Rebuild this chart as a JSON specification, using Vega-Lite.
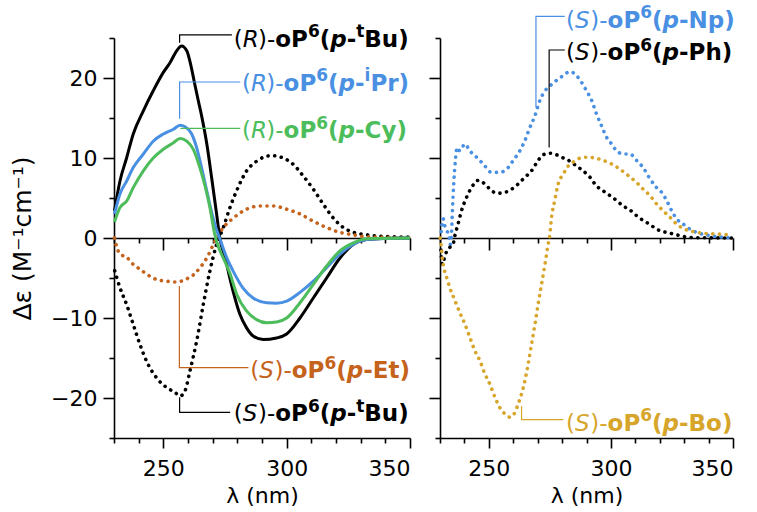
{
  "$schema": "https://vega.github.io/schema/vega-lite/v6.json",
  "padding": {"left": 10, "top": 4, "right": 5, "bottom": 5},
  "background": "white",
  "spacing": 30,
  "bounds": "flush",
  "config": {
    "font": "DejaVu Sans",
    "view": {"stroke": null},
    "axis": {
      "domainColor": "black", "domainWidth": 1.6, "tickColor": "black", "tickWidth": 1.6,
      "labelColor": "black", "labelFont": "DejaVu Sans", "labelFontSize": 22,
      "titleColor": "black", "titleFont": "DejaVu Sans", "titleFontSize": 22, "titleFontWeight": "normal",
      "grid": false, "labelOverlap": false, "labelBound": false
    }
  },
  "datasets": {
    "curves": [
      {"s":"R-tBu","x":230.2,"y":3.4},{"s":"R-tBu","x":232.4,"y":7.1},{"s":"R-tBu","x":235.1,"y":10.0},{"s":"R-tBu","x":237.8,"y":13.0},{"s":"R-tBu","x":241.9,"y":15.9},{"s":"R-tBu","x":245.9,"y":18.4},{"s":"R-tBu","x":250,"y":20.7},{"s":"R-tBu","x":252.7,"y":21.9},{"s":"R-tBu","x":255.4,"y":23.4},{"s":"R-tBu","x":257.4,"y":24.0},{"s":"R-tBu","x":259.5,"y":23.4},{"s":"R-tBu","x":261,"y":21.8},{"s":"R-tBu","x":262.5,"y":19.6},{"s":"R-tBu","x":264,"y":17.4},{"s":"R-tBu","x":265.5,"y":15.3},{"s":"R-tBu","x":267.6,"y":11.8},{"s":"R-tBu","x":269.6,"y":7.5},{"s":"R-tBu","x":271.6,"y":3.0},{"s":"R-tBu","x":272.9,"y":0},{"s":"R-tBu","x":275.1,"y":-2.5},{"s":"R-tBu","x":276.8,"y":-4.8},{"s":"R-tBu","x":278.4,"y":-6.8},{"s":"R-tBu","x":281,"y":-9.5},{"s":"R-tBu","x":283.7,"y":-11.2},{"s":"R-tBu","x":286.4,"y":-12.25},{"s":"R-tBu","x":290.5,"y":-12.7},{"s":"R-tBu","x":295.9,"y":-12.5},{"s":"R-tBu","x":300,"y":-12.0},{"s":"R-tBu","x":305.4,"y":-10.0},{"s":"R-tBu","x":310.8,"y":-7.5},{"s":"R-tBu","x":316.2,"y":-5.0},{"s":"R-tBu","x":321.6,"y":-2.5},{"s":"R-tBu","x":327,"y":-0.8},{"s":"R-tBu","x":332.4,"y":-0.2},{"s":"R-tBu","x":339,"y":-0.05},{"s":"R-tBu","x":350,"y":0},

      {"s":"R-iPr","x":230.2,"y":3.0},{"s":"R-iPr","x":232.4,"y":5.5},{"s":"R-iPr","x":235.1,"y":7.1},{"s":"R-iPr","x":237.8,"y":8.8},{"s":"R-iPr","x":241.9,"y":10.5},{"s":"R-iPr","x":245.9,"y":12.1},{"s":"R-iPr","x":250,"y":13.0},{"s":"R-iPr","x":254.1,"y":13.6},{"s":"R-iPr","x":256.8,"y":14.1},{"s":"R-iPr","x":258.8,"y":13.9},{"s":"R-iPr","x":261.5,"y":13.0},{"s":"R-iPr","x":263.5,"y":11.3},{"s":"R-iPr","x":265.5,"y":8.8},{"s":"R-iPr","x":267.6,"y":5.9},{"s":"R-iPr","x":269.6,"y":3.2},{"s":"R-iPr","x":271.6,"y":1.0},{"s":"R-iPr","x":272.8,"y":0},{"s":"R-iPr","x":275.5,"y":-2.3},{"s":"R-iPr","x":278.4,"y":-4.2},{"s":"R-iPr","x":282.4,"y":-6.3},{"s":"R-iPr","x":286.4,"y":-7.5},{"s":"R-iPr","x":291.9,"y":-8.1},{"s":"R-iPr","x":295.9,"y":-8.15},{"s":"R-iPr","x":300,"y":-7.9},{"s":"R-iPr","x":305.4,"y":-6.8},{"s":"R-iPr","x":310.8,"y":-5.4},{"s":"R-iPr","x":316.2,"y":-3.7},{"s":"R-iPr","x":321.6,"y":-2.0},{"s":"R-iPr","x":327,"y":-0.8},{"s":"R-iPr","x":332.4,"y":-0.2},{"s":"R-iPr","x":340,"y":-0.05},{"s":"R-iPr","x":350,"y":0},

      {"s":"R-Cy","x":230.2,"y":2.0},{"s":"R-Cy","x":232.4,"y":3.8},{"s":"R-Cy","x":235.1,"y":4.6},{"s":"R-Cy","x":237.8,"y":6.3},{"s":"R-Cy","x":241.9,"y":8.4},{"s":"R-Cy","x":245.9,"y":10.0},{"s":"R-Cy","x":250,"y":11.1},{"s":"R-Cy","x":254.1,"y":11.9},{"s":"R-Cy","x":256.8,"y":12.45},{"s":"R-Cy","x":259.5,"y":12.1},{"s":"R-Cy","x":262.1,"y":11.1},{"s":"R-Cy","x":264.8,"y":8.8},{"s":"R-Cy","x":266.9,"y":6.5},{"s":"R-Cy","x":268.9,"y":3.8},{"s":"R-Cy","x":270.8,"y":0.5},{"s":"R-Cy","x":272.2,"y":-1.0},{"s":"R-Cy","x":274.3,"y":-2.5},{"s":"R-Cy","x":277,"y":-4.4},{"s":"R-Cy","x":279.7,"y":-7.0},{"s":"R-Cy","x":283.7,"y":-9.1},{"s":"R-Cy","x":287.8,"y":-10.2},{"s":"R-Cy","x":291.9,"y":-10.6},{"s":"R-Cy","x":295.9,"y":-10.5},{"s":"R-Cy","x":300,"y":-10.0},{"s":"R-Cy","x":305.4,"y":-8.1},{"s":"R-Cy","x":310.8,"y":-5.8},{"s":"R-Cy","x":316.2,"y":-3.5},{"s":"R-Cy","x":321.6,"y":-1.6},{"s":"R-Cy","x":327,"y":-0.6},{"s":"R-Cy","x":332.4,"y":-0.1},{"s":"R-Cy","x":350,"y":0},

      {"s":"S-tBu","x":230.3,"y":-4.1},{"s":"S-tBu","x":232.4,"y":-6.2},{"s":"S-tBu","x":235.1,"y":-8.3},{"s":"S-tBu","x":237.8,"y":-10.8},{"s":"S-tBu","x":240.5,"y":-13.3},{"s":"S-tBu","x":243.2,"y":-15.4},{"s":"S-tBu","x":247.3,"y":-17.5},{"s":"S-tBu","x":251.4,"y":-18.7},{"s":"S-tBu","x":254.7,"y":-19.3},{"s":"S-tBu","x":256.8,"y":-19.75},{"s":"S-tBu","x":258.8,"y":-19.1},{"s":"S-tBu","x":260.8,"y":-16.6},{"s":"S-tBu","x":263.5,"y":-12.9},{"s":"S-tBu","x":266.2,"y":-8.3},{"s":"S-tBu","x":268.9,"y":-4.1},{"s":"S-tBu","x":271.6,"y":-0.8},{"s":"S-tBu","x":274.3,"y":1.3},{"s":"S-tBu","x":277,"y":3.8},{"s":"S-tBu","x":279.7,"y":5.9},{"s":"S-tBu","x":283.8,"y":8.4},{"s":"S-tBu","x":287.8,"y":9.6},{"s":"S-tBu","x":293.9,"y":10.3},{"s":"S-tBu","x":298.6,"y":10.0},{"s":"S-tBu","x":302.7,"y":9.2},{"s":"S-tBu","x":306.7,"y":7.75},{"s":"S-tBu","x":310.8,"y":6.1},{"s":"S-tBu","x":314.9,"y":4.2},{"s":"S-tBu","x":318.9,"y":2.5},{"s":"S-tBu","x":323,"y":1.3},{"s":"S-tBu","x":327.1,"y":0.7},{"s":"S-tBu","x":332.5,"y":0.4},{"s":"S-tBu","x":339.2,"y":0.2},{"s":"S-tBu","x":350,"y":0.1},

      {"s":"S-Et","x":230.2,"y":0},{"s":"S-Et","x":231,"y":-1.0},{"s":"S-Et","x":232.4,"y":-2.0},{"s":"S-Et","x":235.1,"y":-2.4},{"s":"S-Et","x":237.8,"y":-3.3},{"s":"S-Et","x":240.5,"y":-3.9},{"s":"S-Et","x":243.2,"y":-4.5},{"s":"S-Et","x":247.3,"y":-5.2},{"s":"S-Et","x":251.4,"y":-5.4},{"s":"S-Et","x":255.5,"y":-5.5},{"s":"S-Et","x":258.8,"y":-5.2},{"s":"S-Et","x":262.2,"y":-4.6},{"s":"S-Et","x":264.9,"y":-3.7},{"s":"S-Et","x":267.6,"y":-2.5},{"s":"S-Et","x":270.3,"y":-0.8},{"s":"S-Et","x":272.9,"y":0.7},{"s":"S-Et","x":274.3,"y":1.3},{"s":"S-Et","x":278.4,"y":2.5},{"s":"S-Et","x":283.8,"y":3.6},{"s":"S-Et","x":289.2,"y":4.0},{"s":"S-Et","x":294.6,"y":4.0},{"s":"S-Et","x":300,"y":3.6},{"s":"S-Et","x":305.4,"y":3.0},{"s":"S-Et","x":310.8,"y":2.1},{"s":"S-Et","x":316.2,"y":1.3},{"s":"S-Et","x":321.6,"y":0.7},{"s":"S-Et","x":327,"y":0.4},{"s":"S-Et","x":332.4,"y":0.15},{"s":"S-Et","x":350,"y":0.05},

      {"s":"S-Np","x":230.5,"y":0.8},{"s":"S-Np","x":231.3,"y":2.4},{"s":"S-Np","x":232,"y":1.5},{"s":"S-Np","x":232.7,"y":0.9},{"s":"S-Np","x":233.5,"y":0.6},{"s":"S-Np","x":234.2,"y":-0.8},{"s":"S-Np","x":234.7,"y":0.5},{"s":"S-Np","x":235.1,"y":3.5},{"s":"S-Np","x":235.7,"y":7.2},{"s":"S-Np","x":236.3,"y":9.7},{"s":"S-Np","x":237,"y":11.3},{"s":"S-Np","x":238.1,"y":10.9},{"s":"S-Np","x":240.2,"y":11.75},{"s":"S-Np","x":242.2,"y":10.9},{"s":"S-Np","x":245,"y":10.1},{"s":"S-Np","x":247.7,"y":9.25},{"s":"S-Np","x":251.1,"y":8.2},{"s":"S-Np","x":254.5,"y":8.2},{"s":"S-Np","x":257.9,"y":8.8},{"s":"S-Np","x":260,"y":9.7},{"s":"S-Np","x":262.7,"y":10.9},{"s":"S-Np","x":264.8,"y":12.2},{"s":"S-Np","x":266.8,"y":13.8},{"s":"S-Np","x":268.9,"y":15.3},{"s":"S-Np","x":270.9,"y":17.2},{"s":"S-Np","x":273,"y":18.4},{"s":"S-Np","x":275,"y":19.0},{"s":"S-Np","x":277.7,"y":19.7},{"s":"S-Np","x":280.5,"y":20.3},{"s":"S-Np","x":283.2,"y":20.8},{"s":"S-Np","x":285.9,"y":20.3},{"s":"S-Np","x":288,"y":19.45},{"s":"S-Np","x":290,"y":18.4},{"s":"S-Np","x":292.1,"y":17.2},{"s":"S-Np","x":294.1,"y":15.5},{"s":"S-Np","x":296.2,"y":14.0},{"s":"S-Np","x":298.2,"y":12.6},{"s":"S-Np","x":300.3,"y":11.75},{"s":"S-Np","x":303,"y":10.7},{"s":"S-Np","x":305.7,"y":10.5},{"s":"S-Np","x":307.8,"y":10.5},{"s":"S-Np","x":310.5,"y":9.7},{"s":"S-Np","x":313.2,"y":8.8},{"s":"S-Np","x":316,"y":7.4},{"s":"S-Np","x":318.7,"y":6.3},{"s":"S-Np","x":320.8,"y":5.7},{"s":"S-Np","x":322.8,"y":4.7},{"s":"S-Np","x":324.9,"y":3.4},{"s":"S-Np","x":326.9,"y":2.4},{"s":"S-Np","x":329.6,"y":1.75},{"s":"S-Np","x":332.4,"y":1.1},{"s":"S-Np","x":335.1,"y":0.7},{"s":"S-Np","x":340.6,"y":0.3},{"s":"S-Np","x":346,"y":0.1},{"s":"S-Np","x":350,"y":0},

      {"s":"S-Ph","x":230.4,"y":-1.5},{"s":"S-Ph","x":230.9,"y":-3.3},{"s":"S-Ph","x":231.5,"y":-2.8},{"s":"S-Ph","x":232.3,"y":-2.0},{"s":"S-Ph","x":233.3,"y":-1.4},{"s":"S-Ph","x":235.4,"y":-0.75},{"s":"S-Ph","x":236.1,"y":0.3},{"s":"S-Ph","x":237.4,"y":1.75},{"s":"S-Ph","x":238.8,"y":3.4},{"s":"S-Ph","x":240.9,"y":5.1},{"s":"S-Ph","x":242.9,"y":6.3},{"s":"S-Ph","x":245.6,"y":7.2},{"s":"S-Ph","x":248.4,"y":6.75},{"s":"S-Ph","x":251.1,"y":5.9},{"s":"S-Ph","x":253.8,"y":5.6},{"s":"S-Ph","x":256.6,"y":5.7},{"s":"S-Ph","x":259.3,"y":6.1},{"s":"S-Ph","x":262,"y":6.75},{"s":"S-Ph","x":264.8,"y":7.6},{"s":"S-Ph","x":267.5,"y":8.4},{"s":"S-Ph","x":270.2,"y":9.7},{"s":"S-Ph","x":272.3,"y":10.4},{"s":"S-Ph","x":275,"y":10.6},{"s":"S-Ph","x":277.7,"y":10.4},{"s":"S-Ph","x":280.5,"y":10.0},{"s":"S-Ph","x":283.2,"y":9.6},{"s":"S-Ph","x":285.9,"y":9.0},{"s":"S-Ph","x":288.6,"y":8.4},{"s":"S-Ph","x":291.4,"y":7.6},{"s":"S-Ph","x":294.1,"y":6.5},{"s":"S-Ph","x":296.8,"y":5.9},{"s":"S-Ph","x":299.6,"y":5.3},{"s":"S-Ph","x":302.3,"y":4.7},{"s":"S-Ph","x":305,"y":4.0},{"s":"S-Ph","x":307.8,"y":3.5},{"s":"S-Ph","x":310.5,"y":2.8},{"s":"S-Ph","x":313.2,"y":2.2},{"s":"S-Ph","x":316,"y":1.7},{"s":"S-Ph","x":318.7,"y":1.1},{"s":"S-Ph","x":321.4,"y":0.8},{"s":"S-Ph","x":324.2,"y":0.6},{"s":"S-Ph","x":326.9,"y":0.4},{"s":"S-Ph","x":329.6,"y":0.2},{"s":"S-Ph","x":333.7,"y":0.05},{"s":"S-Ph","x":350,"y":0},

      {"s":"S-Bo","x":230.1,"y":0},{"s":"S-Bo","x":230.5,"y":-1.0},{"s":"S-Bo","x":231,"y":-2.6},{"s":"S-Bo","x":231.7,"y":-3.9},{"s":"S-Bo","x":232.7,"y":-4.9},{"s":"S-Bo","x":234,"y":-6.2},{"s":"S-Bo","x":236.1,"y":-7.8},{"s":"S-Bo","x":238.1,"y":-9.3},{"s":"S-Bo","x":240.2,"y":-10.75},{"s":"S-Bo","x":242.2,"y":-12.4},{"s":"S-Bo","x":244.3,"y":-14.1},{"s":"S-Bo","x":246.3,"y":-15.3},{"s":"S-Bo","x":248.4,"y":-17.0},{"s":"S-Bo","x":250.4,"y":-18.25},{"s":"S-Bo","x":252.5,"y":-19.9},{"s":"S-Bo","x":254.5,"y":-21.2},{"s":"S-Bo","x":256.6,"y":-22.0},{"s":"S-Bo","x":258.6,"y":-22.4},{"s":"S-Bo","x":260.7,"y":-21.8},{"s":"S-Bo","x":262,"y":-20.75},{"s":"S-Bo","x":263.4,"y":-19.5},{"s":"S-Bo","x":264.8,"y":-17.8},{"s":"S-Bo","x":266.1,"y":-15.75},{"s":"S-Bo","x":267.5,"y":-13.25},{"s":"S-Bo","x":268.9,"y":-10.75},{"s":"S-Bo","x":270.2,"y":-8.25},{"s":"S-Bo","x":271.6,"y":-5.75},{"s":"S-Bo","x":273,"y":-3.25},{"s":"S-Bo","x":274.3,"y":-0.75},{"s":"S-Bo","x":275,"y":0.5},{"s":"S-Bo","x":275.7,"y":2.6},{"s":"S-Bo","x":277,"y":4.7},{"s":"S-Bo","x":278.4,"y":6.75},{"s":"S-Bo","x":280.5,"y":8.0},{"s":"S-Bo","x":282.5,"y":9.0},{"s":"S-Bo","x":284.6,"y":9.5},{"s":"S-Bo","x":286.6,"y":9.9},{"s":"S-Bo","x":290,"y":10.1},{"s":"S-Bo","x":293.4,"y":10.0},{"s":"S-Bo","x":296.8,"y":9.7},{"s":"S-Bo","x":300.3,"y":9.25},{"s":"S-Bo","x":303.7,"y":8.6},{"s":"S-Bo","x":307.1,"y":7.8},{"s":"S-Bo","x":310.5,"y":6.95},{"s":"S-Bo","x":313.2,"y":6.1},{"s":"S-Bo","x":316,"y":5.3},{"s":"S-Bo","x":318.7,"y":4.25},{"s":"S-Bo","x":321.4,"y":3.4},{"s":"S-Bo","x":324.2,"y":2.6},{"s":"S-Bo","x":326.9,"y":1.75},{"s":"S-Bo","x":329.6,"y":1.2},{"s":"S-Bo","x":333.7,"y":0.8},{"s":"S-Bo","x":337.8,"y":0.6},{"s":"S-Bo","x":343.3,"y":0.5},{"s":"S-Bo","x":348.8,"y":0.4}
    ],
    "leaders": [
      {"s":"R-tBu","p":"L","i":0,"x":256.6,"y":24.4},{"s":"R-tBu","p":"L","i":1,"x":256.6,"y":25.4},{"s":"R-tBu","p":"L","i":2,"x":277.8,"y":25.4},
      {"s":"R-iPr","p":"L","i":0,"x":256.6,"y":14.9},{"s":"R-iPr","p":"L","i":1,"x":256.6,"y":19.5},{"s":"R-iPr","p":"L","i":2,"x":281.2,"y":19.5},
      {"s":"R-Cy","p":"L","i":0,"x":256.9,"y":13.7},{"s":"R-Cy","p":"L","i":1,"x":281.2,"y":13.7},
      {"s":"S-Et","p":"L","i":0,"x":256.5,"y":-6.0},{"s":"S-Et","p":"L","i":1,"x":256.5,"y":-16.2},{"s":"S-Et","p":"L","i":2,"x":284.5,"y":-16.2},
      {"s":"S-tBu","p":"L","i":0,"x":256.6,"y":-19.9},{"s":"S-tBu","p":"L","i":1,"x":256.6,"y":-21.8},{"s":"S-tBu","p":"L","i":2,"x":277.1,"y":-21.8},
      {"s":"S-Np","p":"R","i":0,"x":269.3,"y":16.3},{"s":"S-Np","p":"R","i":1,"x":269.3,"y":27.7},{"s":"S-Np","p":"R","i":2,"x":281.1,"y":27.7},
      {"s":"S-Ph","p":"R","i":0,"x":274.7,"y":11.3},{"s":"S-Ph","p":"R","i":1,"x":274.7,"y":23.5},{"s":"S-Ph","p":"R","i":2,"x":281.1,"y":23.5},
      {"s":"S-Bo","p":"R","i":0,"x":263.4,"y":-21.0},{"s":"S-Bo","p":"R","i":1,"x":263.4,"y":-22.7},{"s":"S-Bo","p":"R","i":2,"x":280.5,"y":-22.7}
    ],
    "labels": [
      {"s":"R-tBu","p":"L","chir":"R","sup":"t","suf":"Bu)","lx":278.5,"ly":23.9},
      {"s":"R-iPr","p":"L","chir":"R","sup":"i","suf":"Pr)","lx":281.9,"ly":18.4},
      {"s":"R-Cy","p":"L","chir":"R","sup":"","suf":"Cy)","lx":281.9,"ly":12.5},
      {"s":"S-Et","p":"L","chir":"S","sup":"","suf":"Et)","lx":285.2,"ly":-17.5},
      {"s":"S-tBu","p":"L","chir":"S","sup":"t","suf":"Bu)","lx":278.5,"ly":-22.9},
      {"s":"S-Np","p":"R","chir":"S","sup":"","suf":"Np)","lx":281.6,"ly":26.3},
      {"s":"S-Ph","p":"R","chir":"S","sup":"","suf":"Ph)","lx":281.6,"ly":22.2},
      {"s":"S-Bo","p":"R","chir":"S","sup":"","suf":"Bo)","lx":281.6,"ly":-24.1}
    ]
  },
  "hconcat": [
    {
      "width": 296, "height": 400,
      "resolve": {"axis": {"x": "independent", "y": "independent"}},
      "layer": [
        {
          "data": {"name": "curves"},
          "transform": [{"filter": {"field": "s", "oneOf": ["S-tBu", "S-Et"]}}],
          "mark": {"type": "line", "strokeWidth": 3.6, "strokeDash": [0.1, 6.6], "strokeCap": "round", "interpolate": "monotone"},
          "encoding": {
            "x": {"field": "x", "type": "quantitative", "scale": {"domain": [230, 350], "nice": false, "zero": false},
                  "axis": {"orient": "bottom", "offset": -200, "values": [230,240,250,260,270,280,290,300,310,320,330,340,350], "labels": false, "title": null,
                           "tickSize": {"condition": {"test": "datum.value % 50 === 0", "value": 12}, "value": 5}}},
            "y": {"field": "y", "type": "quantitative", "scale": {"domain": [-25, 25], "nice": false, "zero": false}, "axis": null},
            "color": {"field": "s", "type": "nominal", "legend": null,
                      "scale": {"domain": ["R-tBu","R-iPr","R-Cy","S-tBu","S-Et","S-Np","S-Ph","S-Bo"], "range": ["#000000","#4a90e2","#4dbd5c","#000000","#c5631c","#4a90e2","#000000","#d6a52a"]}}
          }
        },
        {
          "data": {"name": "curves"},
          "transform": [{"filter": {"field": "s", "oneOf": ["R-tBu", "R-iPr", "R-Cy"]}}],
          "mark": {"type": "line", "strokeWidth": 3, "interpolate": "monotone"},
          "encoding": {
            "x": {"field": "x", "type": "quantitative", "scale": {"domain": [230, 350], "nice": false, "zero": false},
                  "axis": {"orient": "bottom", "values": [230,240,250,260,270,280,290,300,310,320,330,340,350],
                           "labelExpr": "datum.value % 50 === 0 ? datum.label : ''", "labelPadding": 10, "title": "λ (nm)", "titlePadding": 6,
                           "tickSize": {"condition": {"test": "datum.value % 50 === 0", "value": 10}, "value": 5}}},
            "y": {"field": "y", "type": "quantitative", "scale": {"domain": [-25, 25], "nice": false, "zero": false},
                  "axis": {"values": [-25,-20,-15,-10,-5,0,5,10,15,20,25], "labelExpr": "datum.value % 10 === 0 ? datum.label : ''",
                           "labelPadding": 6, "title": "Δε (M⁻¹cm⁻¹)", "titleFontSize": 25, "titlePadding": 15,
                           "tickSize": {"condition": {"test": "datum.value % 10 === 0", "value": 11}, "value": 5}}},
            "color": {"field": "s", "type": "nominal", "legend": null,
                      "scale": {"domain": ["R-tBu","R-iPr","R-Cy","S-tBu","S-Et","S-Np","S-Ph","S-Bo"], "range": ["#000000","#4a90e2","#4dbd5c","#000000","#c5631c","#4a90e2","#000000","#d6a52a"]}}
          }
        },
        {
          "data": {"name": "leaders"},
          "transform": [{"filter": "datum.p === 'L'"}],
          "mark": {"type": "line", "strokeWidth": 1.2},
          "encoding": {
            "x": {"field": "x", "type": "quantitative", "scale": {"domain": [230, 350], "nice": false, "zero": false}, "axis": null},
            "y": {"field": "y", "type": "quantitative", "scale": {"domain": [-25, 25], "nice": false, "zero": false}, "axis": null},
            "order": {"field": "i", "type": "quantitative"},
            "color": {"field": "s", "type": "nominal", "legend": null,
                      "scale": {"domain": ["R-tBu","R-iPr","R-Cy","S-tBu","S-Et","S-Np","S-Ph","S-Bo"], "range": ["#000000","#4a90e2","#4dbd5c","#000000","#c5631c","#4a90e2","#000000","#d6a52a"]}}
          }
        },
        {
          "data": {"name": "labels"},
          "transform": [{"filter": "datum.p === 'L'"}],
          "encoding": {
            "x": {"field": "lx", "type": "quantitative", "scale": {"domain": [230, 350], "nice": false, "zero": false}, "axis": null},
            "y": {"field": "ly", "type": "quantitative", "scale": {"domain": [-25, 25], "nice": false, "zero": false}, "axis": null},
            "color": {"field": "s", "type": "nominal", "legend": null,
                      "scale": {"domain": ["R-tBu","R-iPr","R-Cy","S-tBu","S-Et","S-Np","S-Ph","S-Bo"], "range": ["#000000","#4a90e2","#4dbd5c","#000000","#c5631c","#4a90e2","#000000","#d6a52a"]}}
          },
          "layer": [
            {"mark": {"type": "text", "text": "(", "align": "left", "baseline": "alphabetic", "fontSize": 23, "dx": 0}},
            {"mark": {"type": "text", "align": "left", "baseline": "alphabetic", "fontSize": 23, "fontStyle": "italic", "dx": 9.0}, "encoding": {"text": {"field": "chir"}}},
            {"mark": {"type": "text", "text": ")-", "align": "left", "baseline": "alphabetic", "fontSize": 23, "dx": 24.3}},
            {"mark": {"type": "text", "text": "oP", "align": "left", "baseline": "alphabetic", "fontSize": 23, "fontWeight": "bold", "dx": 41.6}},
            {"mark": {"type": "text", "text": "6", "align": "left", "baseline": "alphabetic", "fontSize": 17, "fontWeight": "bold", "dx": 74.3, "dy": -9.5}},
            {"mark": {"type": "text", "text": "(", "align": "left", "baseline": "alphabetic", "fontSize": 23, "fontWeight": "bold", "dx": 86.1}},
            {"mark": {"type": "text", "text": "p", "align": "left", "baseline": "alphabetic", "fontSize": 23, "fontWeight": "bold", "fontStyle": "italic", "dx": 96.6}},
            {"mark": {"type": "text", "text": "-", "align": "left", "baseline": "alphabetic", "fontSize": 23, "fontWeight": "bold", "dx": 113.1}},
            {"mark": {"type": "text", "align": "left", "baseline": "alphabetic", "fontSize": 17, "fontWeight": "bold", "dx": 122.6, "dy": -9.5}, "encoding": {"text": {"field": "sup"}}},
            {"transform": [{"filter": "datum.sup === ''"}], "mark": {"type": "text", "align": "left", "baseline": "alphabetic", "fontSize": 23, "fontWeight": "bold", "dx": 122.6}, "encoding": {"text": {"field": "suf"}}},
            {"transform": [{"filter": "datum.sup === 't'"}], "mark": {"type": "text", "align": "left", "baseline": "alphabetic", "fontSize": 23, "fontWeight": "bold", "dx": 130.7}, "encoding": {"text": {"field": "suf"}}},
            {"transform": [{"filter": "datum.sup === 'i'"}], "mark": {"type": "text", "align": "left", "baseline": "alphabetic", "fontSize": 23, "fontWeight": "bold", "dx": 128.4}, "encoding": {"text": {"field": "suf"}}}
          ]
        }
      ]
    },
    {
      "width": 293, "height": 400,
      "resolve": {"axis": {"x": "independent", "y": "independent"}},
      "layer": [
        {
          "data": {"name": "curves"},
          "transform": [{"filter": {"field": "s", "oneOf": ["S-Bo", "S-Ph", "S-Np"]}}],
          "mark": {"type": "line", "strokeWidth": 3.6, "strokeDash": [0.1, 6.6], "strokeCap": "round", "interpolate": "monotone"},
          "encoding": {
            "x": {"field": "x", "type": "quantitative", "scale": {"domain": [230, 350], "nice": false, "zero": false},
                  "axis": {"orient": "bottom", "values": [230,240,250,260,270,280,290,300,310,320,330,340,350],
                           "labelExpr": "datum.value % 50 === 0 ? datum.label : ''", "labelPadding": 10, "title": "λ (nm)", "titlePadding": 6,
                           "tickSize": {"condition": {"test": "datum.value % 50 === 0", "value": 10}, "value": 5}}},
            "y": {"field": "y", "type": "quantitative", "scale": {"domain": [-25, 25], "nice": false, "zero": false},
                  "axis": {"values": [-25,-20,-15,-10,-5,0,5,10,15,20,25], "labels": false, "title": null,
                           "tickSize": {"condition": {"test": "datum.value % 10 === 0", "value": 11}, "value": 5}}},
            "color": {"field": "s", "type": "nominal", "legend": null,
                      "scale": {"domain": ["R-tBu","R-iPr","R-Cy","S-tBu","S-Et","S-Np","S-Ph","S-Bo"], "range": ["#000000","#4a90e2","#4dbd5c","#000000","#c5631c","#4a90e2","#000000","#d6a52a"]}}
          }
        },
        {
          "data": {"name": "leaders"},
          "transform": [{"filter": "datum.p === 'R'"}],
          "mark": {"type": "line", "strokeWidth": 1.2},
          "encoding": {
            "x": {"field": "x", "type": "quantitative", "scale": {"domain": [230, 350], "nice": false, "zero": false},
                  "axis": {"orient": "bottom", "offset": -200, "values": [230,240,250,260,270,280,290,300,310,320,330,340,350], "labels": false, "title": null,
                           "tickSize": {"condition": {"test": "datum.value % 50 === 0", "value": 12}, "value": 5}}},
            "y": {"field": "y", "type": "quantitative", "scale": {"domain": [-25, 25], "nice": false, "zero": false}, "axis": null},
            "order": {"field": "i", "type": "quantitative"},
            "color": {"field": "s", "type": "nominal", "legend": null,
                      "scale": {"domain": ["R-tBu","R-iPr","R-Cy","S-tBu","S-Et","S-Np","S-Ph","S-Bo"], "range": ["#000000","#4a90e2","#4dbd5c","#000000","#c5631c","#4a90e2","#000000","#d6a52a"]}}
          }
        },
        {
          "data": {"name": "labels"},
          "transform": [{"filter": "datum.p === 'R'"}],
          "encoding": {
            "x": {"field": "lx", "type": "quantitative", "scale": {"domain": [230, 350], "nice": false, "zero": false}, "axis": null},
            "y": {"field": "ly", "type": "quantitative", "scale": {"domain": [-25, 25], "nice": false, "zero": false}, "axis": null},
            "color": {"field": "s", "type": "nominal", "legend": null,
                      "scale": {"domain": ["R-tBu","R-iPr","R-Cy","S-tBu","S-Et","S-Np","S-Ph","S-Bo"], "range": ["#000000","#4a90e2","#4dbd5c","#000000","#c5631c","#4a90e2","#000000","#d6a52a"]}}
          },
          "layer": [
            {"mark": {"type": "text", "text": "(", "align": "left", "baseline": "alphabetic", "fontSize": 23, "dx": 0}},
            {"mark": {"type": "text", "align": "left", "baseline": "alphabetic", "fontSize": 23, "fontStyle": "italic", "dx": 9.0}, "encoding": {"text": {"field": "chir"}}},
            {"mark": {"type": "text", "text": ")-", "align": "left", "baseline": "alphabetic", "fontSize": 23, "dx": 24.3}},
            {"mark": {"type": "text", "text": "oP", "align": "left", "baseline": "alphabetic", "fontSize": 23, "fontWeight": "bold", "dx": 41.6}},
            {"mark": {"type": "text", "text": "6", "align": "left", "baseline": "alphabetic", "fontSize": 17, "fontWeight": "bold", "dx": 74.3, "dy": -9.5}},
            {"mark": {"type": "text", "text": "(", "align": "left", "baseline": "alphabetic", "fontSize": 23, "fontWeight": "bold", "dx": 86.1}},
            {"mark": {"type": "text", "text": "p", "align": "left", "baseline": "alphabetic", "fontSize": 23, "fontWeight": "bold", "fontStyle": "italic", "dx": 96.6}},
            {"mark": {"type": "text", "text": "-", "align": "left", "baseline": "alphabetic", "fontSize": 23, "fontWeight": "bold", "dx": 113.1}},
            {"mark": {"type": "text", "align": "left", "baseline": "alphabetic", "fontSize": 23, "fontWeight": "bold", "dx": 122.6}, "encoding": {"text": {"field": "suf"}}}
          ]
        }
      ]
    }
  ]
}
